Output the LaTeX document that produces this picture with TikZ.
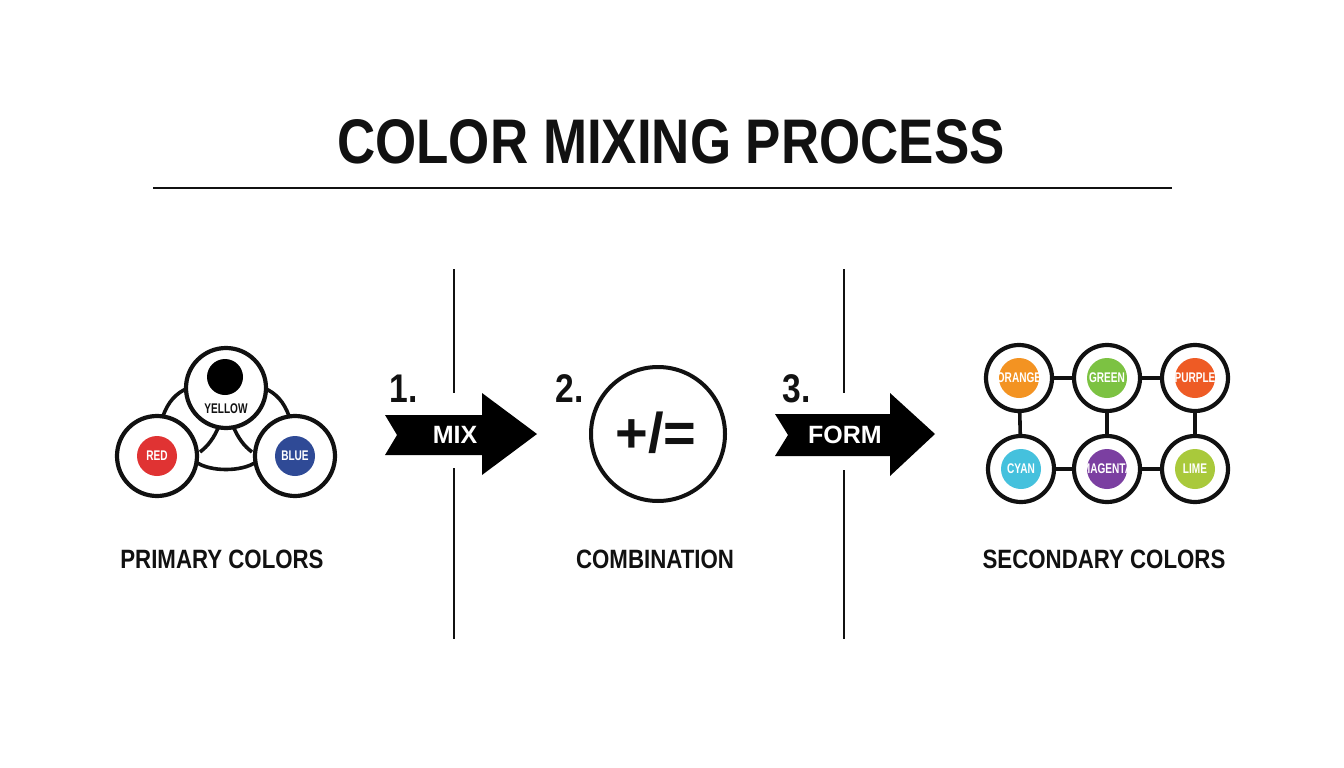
\documentclass[tikz,border=0pt]{standalone}
\usepackage{fontspec}
\setmainfont{Liberation Sans}
\newfontfamily\condb[FakeStretch=0.84]{Liberation Sans Bold}
\newfontfamily\narrowb[FakeStretch=0.72]{Liberation Sans Bold}
\newfontfamily\plainb{Liberation Sans Bold}
\definecolor{cred}{HTML}{E03333}
\definecolor{cblue}{HTML}{2F4A96}
\definecolor{corange}{HTML}{F39322}
\definecolor{cgreen}{HTML}{7CC242}
\definecolor{cpurple}{HTML}{EE5B25}
\definecolor{ccyan}{HTML}{45C1DD}
\definecolor{cmagenta}{HTML}{7B3FA1}
\definecolor{clime}{HTML}{A9C93B}
\definecolor{ink}{HTML}{111111}
\tikzset{
  ring/.style={circle,draw=ink,line width=4.2pt,fill=white,minimum size=#1,inner sep=0pt},
  dot/.style={circle,fill=#1,minimum size=40pt,inner sep=0pt},
  intext/.style={text=white,font=\narrowb\fontsize{14}{14}\selectfont,inner sep=0pt},
  link/.style={draw=ink,line width=3.6pt},
  divider/.style={draw=ink,line width=2pt},
  label/.style={font=\condb\fontsize{26.5}{26.5}\selectfont,text=ink,inner sep=0pt},
  stepnum/.style={font=\condb\fontsize{40}{40}\selectfont,text=ink,inner sep=0pt},
  arrowbody/.style={fill=black},
  arrowtext/.style={font=\plainb\fontsize{25}{25}\selectfont,text=white,inner sep=0pt}
}
\begin{document}
\begin{tikzpicture}[x=1pt,y=-1pt]
\useasboundingbox[fill=white] (0,0) rectangle (1344,768);

% title
\node[font=\condb\fontsize{63}{63}\selectfont,text=ink,inner sep=0pt] (title) at (671,142) {COLOR MIXING PROCESS};
\coordinate (rl) at (153,188);
\coordinate (rr) at (1172,188);
\draw[divider] (rl) -- (rr);

% dividers
\coordinate (d1a) at (454,269);
\coordinate (d1b) at (454,393);
\coordinate (d1c) at (454,468);
\coordinate (d1d) at (454,639);
\coordinate (d2a) at (844,269);
\coordinate (d2b) at (844,393);
\coordinate (d2c) at (844,470);
\coordinate (d2d) at (844,639);
\draw[divider] (d1a) -- (d1b) (d1c) -- (d1d);
\draw[divider] (d2a) -- (d2b) (d2c) -- (d2d);

% primary colors
\coordinate (pa1) at (163,416);
\coordinate (pa2) at (188,388);
\coordinate (pb1) at (289,416);
\coordinate (pb2) at (264,388);
\draw[link] (pa1) .. controls (168,402) and (176,393) .. (pa2);
\draw[link] (pb1) .. controls (284,402) and (276,393) .. (pb2);
\draw[link] (196,462) .. controls (210,472) and (242,472) .. (256,462);
\draw[link] (200,452) .. controls (208,446) and (214,438) .. (219,426);
\draw[link] (252,452) .. controls (244,446) and (238,438) .. (233,426);
\node[ring=80pt] (yellow) at (226,388) {};
\node[ring=80pt] (red) at (157,456) {};
\node[ring=80pt] (blue) at (295,456) {};
\node[circle,fill=black,minimum size=36pt,inner sep=0pt] (ydot) at (225,377) {};
\node[intext,text=ink] (ytxt) at (226,409) {YELLOW};
\node[dot=cred] (rdot) at (157,456) {};
\node[intext] (rtxt) at (157,456) {RED};
\node[dot=cblue] (bdot) at (295,456) {};
\node[intext] (btxt) at (295,456) {BLUE};
\node[label] (plabel) at (222,559) {PRIMARY COLORS};

% arrow 1
\path[arrowbody] (385,415) -- (482,415) -- (482,393) -- (537,434) -- (482,475) -- (482,455) -- (385,455) -- (397,435) -- cycle;
\node[arrowtext] (mix) at (455,435) {MIX};
\node[stepnum] (n1) at (404,389) {1.};

% combination
\node[ring=134pt,line width=4pt] (comb) at (658,434) {};
\node[font=\plainb\fontsize{56}{56}\selectfont,text=ink,inner sep=0pt] (ops) at (656,433) {+/=};
\node[stepnum] (n2) at (570,389) {2.};
\node[label] (clabel) at (655,559) {COMBINATION};

% arrow 3
\path[arrowbody] (775,414) -- (890,414) -- (890,393) -- (935,434) -- (890,476) -- (890,456) -- (775,456) -- (788,435) -- cycle;
\node[arrowtext] (form) at (845,435) {FORM};
\node[stepnum] (n3) at (797,389) {3.};

% secondary colors
\node[ring=66pt] (orange) at (1019,378) {};
\node[ring=66pt] (green) at (1107,378) {};
\node[ring=66pt] (purple) at (1195,378) {};
\node[ring=66pt] (cyan) at (1021,469) {};
\node[ring=66pt] (magenta) at (1107,469) {};
\node[ring=66pt] (lime) at (1195,469) {};
\draw[link] (orange) -- (green);
\draw[link] (green) -- (purple);
\draw[link] (cyan) -- (magenta);
\draw[link] (magenta) -- (lime);
\draw[link] (orange) -- (cyan);
\draw[link] (green) -- (magenta);
\draw[link] (purple) -- (lime);
\node[dot=corange] at (orange) {};
\node[dot=cgreen] at (green) {};
\node[dot=cpurple] at (purple) {};
\node[dot=ccyan] at (cyan) {};
\node[dot=cmagenta] at (magenta) {};
\node[dot=clime] at (lime) {};
\node[intext] (t1) at (orange) {ORANGE};
\node[intext] (t2) at (green) {GREEN};
\node[intext] (t3) at (purple) {PURPLE};
\node[intext] (t4) at (cyan) {CYAN};
\node[intext] (t5) at (magenta) {MAGENTA};
\node[intext] (t6) at (lime) {LIME};
\node[label] (slabel) at (1104,559) {SECONDARY COLORS};
\end{tikzpicture}
\end{document}
